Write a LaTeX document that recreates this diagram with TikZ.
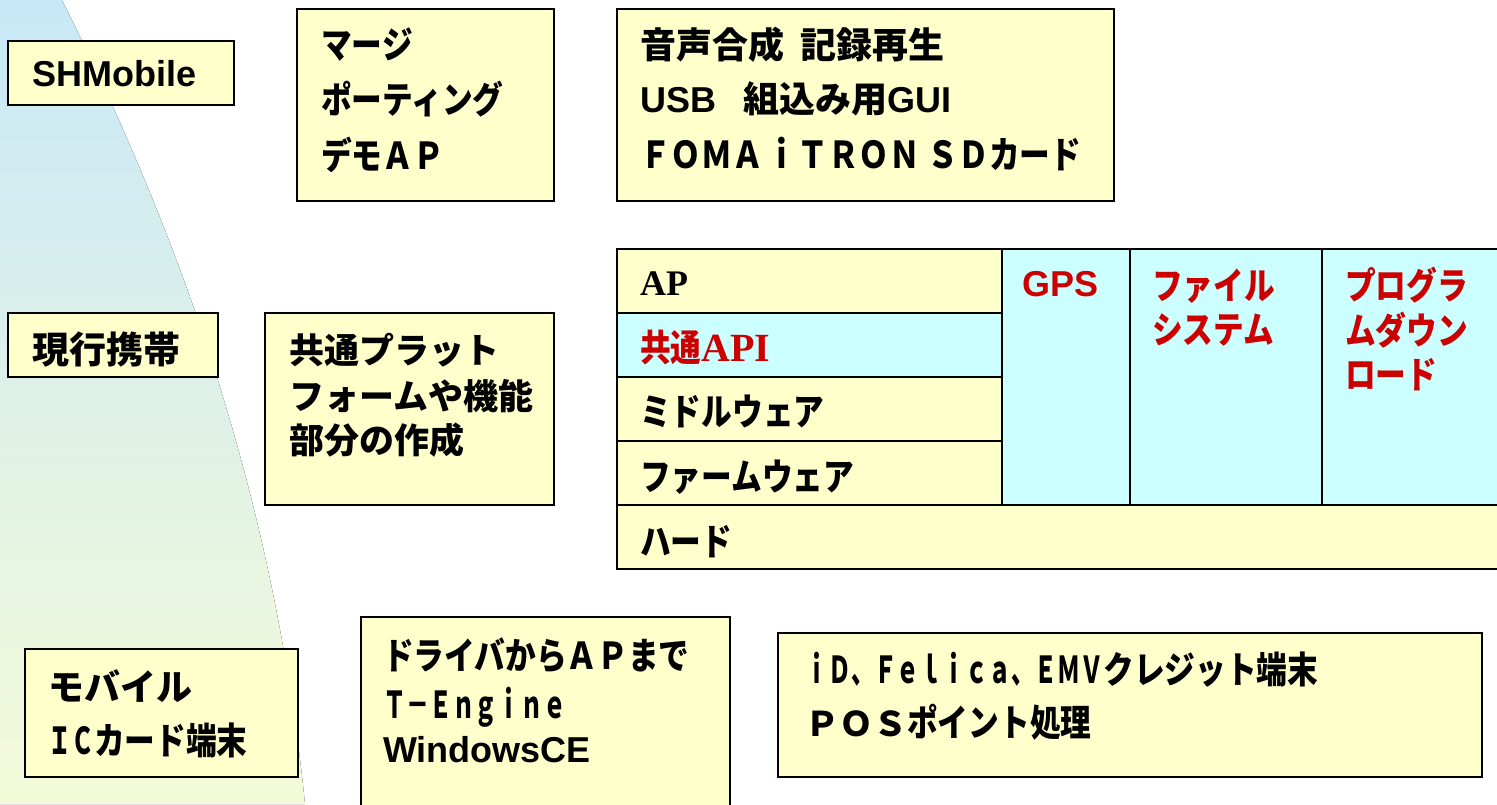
\documentclass[tikz,border=0pt]{standalone}
\usepackage{fontspec}
\setmainfont{Liberation Sans}
\newfontfamily\tms{Liberation Serif}
\newfontfamily\jp{Noto Sans CJK JP}
\newfontfamily\jpn{Noto Sans CJK JP}[FakeStretch=0.83]
\newfontfamily\jpl{Noto Sans CJK JP}[FakeStretch=0.62]

\definecolor{boxyellow}{HTML}{FFFFCC}
\definecolor{boxcyan}{HTML}{CCFFFF}
\definecolor{txtred}{HTML}{CC0000}
\definecolor{bgblue}{RGB}{200,232,247}
\definecolor{bgyellow}{RGB}{244,250,216}

\tikzset{
    box/.style={draw=black,line width=2.5pt,fill=boxyellow},
    layer/.style={draw=black,line width=2pt},
    txt/.style={anchor=west,inner sep=0pt},
    jtext/.style={txt,font=\jp\bfseries\fontsize{36}{40}\selectfont},
    ntext/.style={txt,font=\jpn\bfseries\fontsize{37}{40}\selectfont},
    etext/.style={txt,font=\bfseries\fontsize{36}{40}\selectfont},
    stext/.style={txt,font=\tms\bfseries\fontsize{36}{40}\selectfont}
}

\begin{document}
\begin{tikzpicture}[x=1pt,y=-1pt,line join=miter]
        \useasboundingbox (0,0) rectangle (1497,804);
        \clip (0,0) rectangle (1497,804);

        % draw the shaded background on the left
        \fill[top color=bgblue,bottom color=bgyellow]
            (0,0) -- (62,0) .. controls (172,220) and (272,480) .. (305,804) -- (0,804) -- cycle;

        % draw the boxes of the top row
        \draw[box] (8,41) rectangle (234,105);
        \draw[box] (297,9) rectangle (554,201);
        \draw[box] (617,9) rectangle (1114,201);

        % draw the boxes of the middle row
        \draw[box] (8,313) rectangle (218,377);
        \draw[box] (265,313) rectangle (554,505);

        % draw the layers of the platform
        \foreach \y/\c in {249/boxyellow,313/boxcyan,377/boxyellow,441/boxyellow}
                \draw[layer,fill=\c] (617,\y) rectangle (1002,\y+64);
        \foreach \x/\w in {1002/128,1130/192,1322/200}
                \draw[layer,fill=boxcyan] (\x,249) rectangle (\x+\w,505);
        \draw[layer,fill=boxyellow] (617,505) rectangle (1530,569);

        % draw the boxes of the bottom row
        \draw[box] (25,649) rectangle (298,777);
        \draw[box] (361,617) rectangle (730,830);
        \draw[box] (778,633) rectangle (1482,777);

        % texts of the top row
        \node[etext] (shmobile) at (32,74) {SHMobile};
        \node[ntext] (merge)   at (321,45)  {マージ};
        \node[ntext] (porting) at (321,99)  {ポーティング};
        \node[ntext] (demoap)  at (321,155) {デモＡＰ};
        \node[jtext] (voice)   at (640,45)  {音声合成\hspace{0.45em}記録再生};
        \node[etext] (usb)     at (640,99)  {USB\hspace{0.75em}{\jp 組込み用}GUI};
        \node[ntext] (foma)    at (640,154) {ＦＯＭＡ\hspace{0.1em}ｉＴＲＯＮ\hspace{0.2em}ＳＤカード};

        % texts of the middle row
        \node[jtext,font=\jp\bfseries\fontsize{37}{40}\selectfont] (current) at (32,350) {現行携帯};
        \node[jtext,font=\jp\bfseries\fontsize{35}{40}\selectfont] (common1) at (289,350) {共通プラット};
        \node[jtext,font=\jp\bfseries\fontsize{35}{40}\selectfont] (common2) at (289,396) {フォームや機能};
        \node[jtext,font=\jp\bfseries\fontsize{35}{40}\selectfont] (common3) at (289,440) {部分の作成};

        % texts of the platform layers
        \node[stext] (ap)   at (640,284) {AP};
        \node[ntext,text=txtred] (api) at (640,348) {共通{\tms\fontsize{40}{40}\selectfont API}};
        \node[ntext] (middleware) at (640,411) {ミドルウェア};
        \node[ntext] (firmware)   at (640,477) {ファームウェア};
        \node[ntext] (hard)       at (640,542) {ハード};
        \node[etext,text=txtred] (gps) at (1022,284) {GPS};
        \node[ntext,text=txtred] (file1) at (1152,286) {ファイル};
        \node[ntext,text=txtred] (file2) at (1152,330) {システム};
        \node[ntext,text=txtred] (prog1) at (1345,285) {プログラ};
        \node[ntext,text=txtred] (prog2) at (1345,330) {ムダウン};
        \node[ntext,text=txtred] (prog3) at (1345,375) {ロード};

        % texts of the bottom row
        \node[jtext] (mobile1) at (48,686) {モバイル};
        \node[ntext] (mobile2) at (48,740) {{\jpl ＩＣ}カード端末};
        \node[ntext] (driver)  at (383,655) {ドライバからＡＰまで};
        \node[ntext] (tengine) at (383,707) {\jpl Ｔ－Ｅｎｇｉｎｅ};
        \node[etext] (wince)   at (383,750) {WindowsCE};
        \node[ntext] (felica)  at (805,670) {{\jpl ｉＤ、Ｆｅｌｉｃａ、ＥＭＶ}クレジット端末};
        \node[ntext] (pos)     at (805,722) {{\jp\fontsize{34}{40}\selectfont ＰＯＳ}ポイント処理};
\end{tikzpicture}
\end{document}
